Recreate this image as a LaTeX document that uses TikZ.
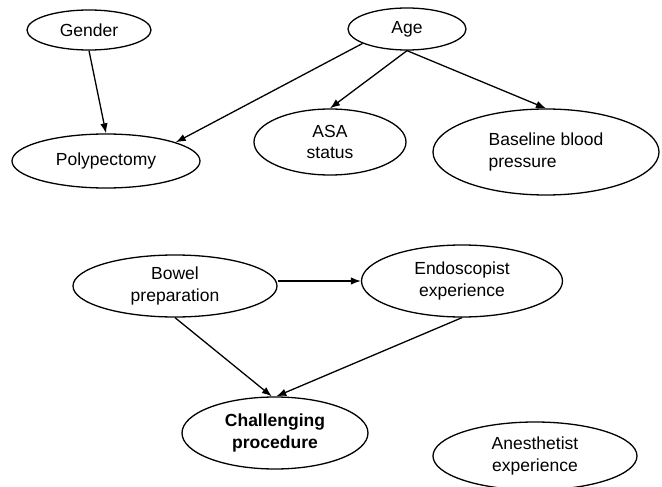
\documentclass[tikz,border=0pt]{standalone}
\usepackage{fontspec}
\setmainfont{Liberation Sans}
\usetikzlibrary{shapes.geometric,arrows.meta}

\begin{document}
\begin{tikzpicture}[x=1pt,y=-1pt,
  var/.style={ellipse,draw,line width=1.3pt,inner sep=0pt,align=center,
    font=\fontsize{17.5}{21.5}\selectfont},
  link/.style={line width=1.3pt,-{Latex[length=10pt,width=7.5pt]}}]
\useasboundingbox (0,0) rectangle (662,487);
% top half
\node[var,minimum width=124,minimum height=40] (gender) at (89,30) {Gender};
\node[var,minimum width=118,minimum height=42] (age) at (407,29) {Age};
\node[var,minimum width=188,minimum height=54] (poly) at (106,161) {Polypectomy};
\node[var,minimum width=152,minimum height=66] (asa) at (330,142) {ASA\\status};
\node[var,minimum width=226,minimum height=86,align=left] (bp) at (546,152) {Baseline blood\\pressure};
\draw[link] (gender.south) -- (poly.north);
\draw[link] (age.198) -- (poly.15);
\draw[link] (age.south) -- (asa.north);
\draw[link] (age.south) -- (bp.north);
% bottom half
\node[var,minimum width=204,minimum height=62] (bowel) at (175,286) {Bowel\\preparation};
\node[var,minimum width=201,minimum height=72] (endo) at (462,281) {Endoscopist\\experience};
\node[var,minimum width=186,minimum height=72,font=\fontsize{17.5}{21.5}\selectfont\bfseries] (chal) at (275,433) {Challenging\\procedure};
\node[var,minimum width=204,minimum height=68] (anest) at (535,456) {Anesthetist\\experience};
\draw[link] (bowel.east |- endo.west) -- (endo.west);
\draw[link] (bowel.south) -- (chal.95);
\draw[link] (endo.south) -- (chal.88);
\end{tikzpicture}
\end{document}
